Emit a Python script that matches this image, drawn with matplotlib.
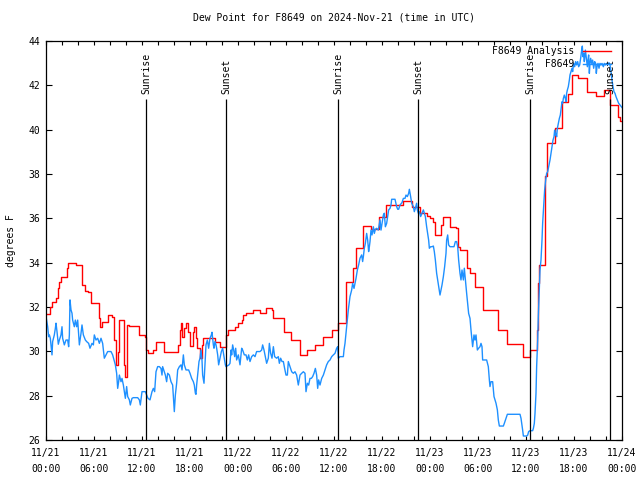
import matplotlib
matplotlib.use("Agg")
import matplotlib.pyplot as plt
import matplotlib.dates as mdates
import pandas as pd

# hours after 2024-11-21 00:00 UTC
analysis_hours = [0.0, 0.5, 0.75, 1.25, 1.45, 1.65, 1.85, 2.6, 2.8, 3.7, 4.55, 4.9, 5.2, 5.6,
                  6.6, 6.75, 6.95, 7.75, 8.3, 8.55, 8.7, 8.95, 9.15, 9.7, 9.85, 10.15, 10.4,
                  11.6, 12.4, 12.55, 12.7, 13.35, 13.7, 14.7, 16.55, 16.7, 16.85, 17.05, 17.25,
                  17.45, 17.75, 17.95, 18.33, 18.5, 18.75, 18.9, 19.25, 19.46, 19.67, 21.1,
                  21.75, 22.5, 22.8, 23.6, 24.0, 24.46, 24.67, 25.0, 25.9, 26.75, 27.5, 28.2,
                  28.4, 29.75, 30.6, 31.75, 32.58, 33.6, 34.67, 35.7, 36.54, 37.5, 38.4, 38.7,
                  39.6, 40.6, 41.6, 42.5, 44.6, 45.7, 46.7, 47.6, 48.0, 48.4, 48.6, 49.4,
                  49.67, 50.5, 51.3, 51.5, 51.8, 52.6, 53.0, 53.6, 54.6, 56.5, 57.6, 59.67,
                  60.55, 61.4, 61.5, 61.6, 62.4, 62.6, 63.6, 64.45, 65.3, 65.7, 66.55, 67.6,
                  68.75, 69.75, 70.5, 71.5, 71.75, 71.9]
analysis_vals = [31.67, 32.0, 32.24, 32.4, 32.85, 33.14, 33.34, 33.74, 33.97, 33.9, 33.0, 32.72,
                 32.66, 32.17, 31.49, 31.11, 31.34, 31.64, 31.56, 30.51, 29.38, 29.98, 31.41,
                 29.38, 28.86, 31.19, 31.14, 30.74, 30.66, 30.06, 29.91, 30.06, 30.41, 29.96,
                 30.3, 30.96, 31.27, 30.66, 31.04, 31.27, 30.89, 30.26, 30.89, 31.11, 30.6,
                 30.15, 29.7, 30.29, 30.62, 30.41, 30.21, 30.74, 30.96, 31.1, 31.27, 31.42,
                 31.64, 31.72, 31.87, 31.72, 31.97, 31.87, 31.49, 30.89, 30.51, 29.83, 30.08,
                 30.29, 30.66, 30.96, 31.29, 33.14, 33.74, 34.65, 35.66, 35.5, 36.08, 36.6,
                 36.8, 36.53, 36.23, 36.1, 36.0, 35.85, 35.25, 35.7, 36.08, 35.62, 35.55,
                 34.72, 34.57, 33.74, 33.52, 32.92, 31.87, 30.96, 30.33, 29.76, 30.06, 30.96,
                 33.07, 33.9, 37.9, 39.39, 40.06, 41.26, 41.6, 42.47, 42.32, 41.71, 41.52,
                 41.79, 41.11, 40.59, 40.4, 40.4]

obs_hours = [0.0, 0.21, 0.33, 0.42, 0.54, 0.625, 0.75, 0.83, 1.04, 1.17, 1.25, 1.375, 1.54,
             1.67, 1.875, 2.0, 2.08, 2.29, 2.5, 2.71, 2.83, 2.92, 3.0, 3.125, 3.25, 3.33,
             3.54, 3.67, 3.83, 3.96, 4.17, 4.375, 4.5, 4.67, 4.92, 5.08, 5.33, 5.5, 5.75,
             5.92, 6.04, 6.25, 6.46, 6.67, 6.875, 7.08, 7.29, 7.5, 7.71, 8.125, 8.33, 8.67,
             8.83, 8.96, 9.08, 9.17, 9.375, 9.5, 9.67, 9.79, 9.92, 10.08, 10.21, 10.42,
             10.54, 10.75, 10.92, 11.46, 11.67, 11.79, 12.0, 12.42, 12.58, 12.75, 13.0,
             13.25, 13.42, 13.58, 13.75, 13.96, 14.17, 14.375, 14.5, 14.58, 14.79, 14.92,
             15.08, 15.21, 15.42, 15.625, 15.83, 15.96, 16.04, 16.17, 16.33, 16.46, 16.67,
             16.875, 17.0, 17.17, 17.29, 17.5, 17.83, 18.0, 18.21, 18.42, 18.54, 18.67,
             18.75, 18.83, 18.96, 19.125, 19.25, 19.375, 19.5, 19.58, 19.75, 19.875, 20.0,
             20.17, 20.33, 20.5, 20.67, 20.75, 20.92, 21.0, 21.125, 21.25, 21.33, 21.46,
             21.58, 21.75, 21.92, 22.08, 22.25, 22.42, 22.5, 22.875, 23.0, 23.125, 23.21,
             23.33, 23.46, 23.58, 23.71, 23.83, 24.04, 24.25, 24.46, 24.58, 24.79, 25.0,
             25.17, 25.33, 25.5, 25.71, 25.92, 26.125, 26.33, 26.75, 26.96, 27.08, 27.25,
             27.42, 27.58, 27.79, 27.92, 28.08, 28.25, 28.42, 28.58, 28.83, 29.04, 29.17,
             29.33, 29.5, 29.67, 29.83, 30.0, 30.17, 30.29, 30.5, 30.71, 30.92, 31.125,
             31.33, 31.54, 31.75, 31.96, 32.17, 32.375, 32.5, 32.67, 32.83, 33.0, 33.17,
             33.33, 33.5, 33.67, 33.83, 33.96, 34.08, 34.25, 34.46, 34.67, 34.875, 35.08,
             35.29, 35.5, 35.71, 35.92, 36.125, 36.33, 36.46, 36.54, 36.75, 37.17, 37.25,
             37.375, 37.58, 37.79, 38.0, 38.21, 38.33, 38.5, 38.625, 38.75, 38.92, 39.08,
             39.25, 39.46, 39.58, 39.67, 39.79, 39.92, 40.08, 40.21, 40.33, 40.42, 40.5,
             40.625, 40.75, 40.92, 41.04, 41.17, 41.33, 41.54, 41.67, 41.75, 41.875, 42.0,
             42.17, 42.29, 42.42, 42.58, 42.71, 42.83, 43.0, 43.125, 43.21, 43.625, 43.83,
             43.96, 44.08, 44.25, 44.5, 44.67, 44.875, 45.0, 45.17, 45.33, 45.42, 45.58,
             45.71, 45.92, 46.04, 46.17, 46.33, 46.42, 46.54, 46.67, 46.83, 47.0, 47.17,
             47.29, 47.42, 47.58, 47.71, 47.83, 47.92, 48.08, 48.25, 48.42, 48.54, 48.67,
             48.83, 48.96, 49.08, 49.25, 49.375, 49.5, 49.67, 49.83, 50.0, 50.08, 50.21,
             50.33, 50.5, 50.83, 51.0, 51.17, 51.33, 51.46, 51.58, 51.75, 51.875, 52.0,
             52.17, 52.29, 52.42, 52.58, 52.71, 52.83, 53.0, 53.125, 53.25, 53.33, 53.5,
             53.625, 53.75, 53.92, 54.08, 54.25, 54.375, 54.5, 54.58, 55.08, 55.29, 55.42,
             55.5, 55.625, 55.83, 56.0, 56.25, 56.42, 56.54, 56.67, 57.17, 57.29, 57.5,
             57.67, 59.25, 59.375, 59.58, 59.67, 60.08, 60.21, 60.33, 60.5, 60.83, 60.92,
             61.04, 61.125, 61.25, 61.33, 61.46, 61.54, 61.625, 61.75, 61.875, 62.0, 62.08,
             62.21, 62.33, 62.46, 62.58, 62.71, 62.83, 63.0, 63.125, 63.25, 63.375, 63.5,
             63.58, 63.67, 63.75, 63.83, 63.92, 64.04, 64.17, 64.29, 64.42, 64.5, 64.58,
             64.67, 64.79, 64.92, 65.0, 65.08, 65.17, 65.29, 65.42, 65.5, 65.625, 65.75,
             65.83, 65.96, 66.08, 66.21, 66.33, 66.46, 66.58, 66.71, 66.83, 66.96, 67.04,
             67.125, 67.21, 67.29, 67.42, 67.54, 67.67, 67.75, 67.83, 67.92, 68.0, 68.08,
             68.21, 68.33, 68.46, 68.58, 68.71, 68.79, 68.875, 69.0, 69.125, 69.25, 69.375,
             69.5, 69.67, 69.79, 69.92, 70.08, 70.25, 70.375, 70.5, 70.625, 70.75, 70.875,
             71.0, 71.125, 71.25, 71.42, 71.58, 71.75, 72.0]
obs_vals = [31.57, 31.11, 30.66, 30.74, 30.59, 30.29, 29.84, 30.44, 30.74, 31.04, 31.27, 30.89,
            30.32, 30.51, 30.74, 31.11, 30.59, 30.29, 30.51, 30.51, 30.21, 30.74, 32.32,
            31.87, 31.72, 31.41, 31.11, 31.41, 31.11, 31.41, 30.29, 30.81, 31.19, 30.74,
            30.51, 30.44, 30.36, 30.14, 30.36, 30.29, 30.74, 30.51, 30.59, 30.36, 30.59,
            30.36, 29.69, 29.84, 29.99, 29.99, 29.84, 29.39, 29.01, 28.33, 28.63, 28.93,
            28.63, 28.78, 28.48, 28.18, 27.88, 28.41, 27.96, 27.81, 27.58, 27.88, 27.91,
            27.91, 27.81, 27.58, 28.18, 28.18, 28.03, 27.88, 27.81, 28.18, 28.33, 28.18,
            29.08, 29.31, 29.31, 29.23, 28.93, 29.31, 29.08, 28.93, 28.63, 29.01, 28.93,
            28.63, 28.48, 27.73, 27.28, 28.03, 28.56, 29.16, 29.31, 29.39, 29.16, 29.84,
            29.39, 29.16, 29.16, 29.01, 28.78, 28.63, 28.48, 28.11, 28.06, 28.48, 28.93,
            29.54, 29.69, 30.06, 29.61, 28.93, 28.56, 29.39, 30.29, 30.51, 30.14, 30.59,
            30.74, 30.86, 30.29, 30.14, 30.44, 30.29, 30.14, 29.84, 29.39, 29.69, 29.99,
            30.14, 29.76, 29.39, 29.31, 29.39, 29.46, 30.06, 29.84, 30.29, 30.06, 29.76,
            30.14, 29.61, 29.84, 29.39, 30.14, 30.06, 29.84, 29.84, 29.61, 29.84, 29.54,
            29.76, 29.84, 29.76, 29.99, 29.99, 30.06, 30.29, 30.06, 29.76, 29.46, 29.69,
            30.36, 29.91, 29.69, 30.21, 29.76, 29.69, 29.76, 29.46, 29.69, 29.54, 29.54,
            29.23, 28.93, 28.93, 29.54, 29.31, 29.08, 29.01, 29.08, 28.93, 28.48, 28.93,
            29.01, 29.08, 29.01, 28.18, 28.56, 28.48, 28.78, 28.78, 28.86, 29.01, 29.23,
            28.93, 28.33, 28.71, 28.48, 28.78, 28.93, 29.16, 29.39, 29.54, 29.61, 29.76,
            29.84, 29.91, 30.14, 30.21, 29.69, 29.76, 29.76, 30.06, 30.36, 31.11, 31.87,
            32.47, 32.77, 33.07, 32.84, 33.07, 33.29, 33.67, 33.9, 34.2, 34.35, 34.05,
            34.27, 34.65, 34.87, 35.32, 35.02, 34.5, 34.72, 34.95, 35.47, 35.25, 35.62,
            35.32, 35.5, 35.55, 35.47, 35.77, 35.93, 35.47, 35.77, 36.15, 36.23, 35.62,
            35.77, 36.08, 36.38, 36.45, 36.6, 36.86, 36.86, 36.53, 36.41, 36.41, 36.6,
            36.71, 36.9, 36.9, 37.05, 36.98, 37.13, 37.31, 36.98, 36.68, 36.53, 36.3,
            36.45, 36.68, 36.38, 36.23, 36.3, 36.08, 36.23, 36.38, 36.23, 36.08, 35.62,
            35.32, 35.02, 34.65, 34.72, 34.72, 34.75, 34.5, 34.12, 33.52, 33.22, 32.92,
            32.54, 32.77, 32.99, 33.37, 33.82, 34.42, 35.02, 35.25, 34.8, 34.72, 34.72,
            34.72, 34.95, 34.95, 34.72, 34.12, 33.52, 33.22, 33.67, 33.22, 33.75, 33.22,
            32.62, 32.17, 31.71, 31.49, 30.96, 30.51, 30.21, 30.74, 30.51, 30.74, 30.06,
            30.14, 30.21, 30.36, 30.21, 29.61, 29.61, 29.31, 28.71, 28.41, 28.63, 28.63,
            27.96, 27.66, 27.36, 26.9, 26.63, 26.63, 26.75, 26.98, 27.16, 27.16, 26.98,
            26.45, 26.18, 26.18, 26.22, 26.38, 26.42, 26.42, 26.52, 26.75, 27.2, 28.11,
            29.31, 30.51, 31.57, 32.47, 33.67, 34.12, 35.02, 35.77, 36.53, 37.28, 37.73,
            38.03, 38.1, 38.33, 38.63, 38.93, 39.23, 39.53, 39.68, 39.98, 39.76, 39.83,
            39.68, 40.06, 40.28, 40.51, 40.66, 41.04, 41.26, 41.19, 41.41, 41.56, 41.41,
            41.26, 41.64, 41.79, 41.94, 42.24, 42.47, 42.62, 42.77, 42.62, 42.99, 42.84,
            43.07, 42.92, 43.07, 42.84, 42.92, 43.22, 43.59, 43.77, 43.29, 43.44, 43.07,
            43.59, 43.22, 42.84, 43.14, 43.37, 42.54, 42.99, 43.22, 42.99, 43.14, 42.77,
            43.07, 42.99, 42.54, 42.84, 42.99, 42.77, 42.99, 42.92, 42.99, 42.84, 42.99,
            42.92, 42.99, 42.96, 43.02, 42.92, 42.62, 42.24, 41.94, 41.71, 41.64, 41.49,
            41.34, 41.19, 41.11, 41.0]

sun_hours = [12.5, 22.5, 36.5, 46.5, 60.5, 70.5]
sun_labels = ["Sunrise", "Sunset", "Sunrise", "Sunset", "Sunrise", "Sunset"]

start = pd.Timestamp("2024-11-21 00:00")
end = pd.Timestamp("2024-11-24 00:00")


def to_time(hours):
    return start + pd.to_timedelta(hours, unit="h")


plt.rcParams['font.family'] = ['DejaVu Sans Mono']
plt.rcParams['font.size'] = 7

fig = plt.figure(figsize=(6.4, 4.8), dpi=100)
ax = fig.add_axes([46 / 640, 40 / 480, 576 / 640, 399 / 480])

ax.plot(to_time(analysis_hours), analysis_vals, color='#ff0000', lw=1.0,
        drawstyle='steps-post', label='F8649 Analysis')
ax.plot(to_time(obs_hours), obs_vals, color='#1e90ff', lw=1.0,
        label='         F8649')

ax.vlines(to_time(sun_hours), 26, 41.38, color='black', lw=0.9)
for t, lab in zip(to_time(sun_hours), sun_labels):
    ax.text(t, 41.62, lab, rotation=90, ha='center', va='bottom', fontsize=7)

ax.set_xlim(start, end)
ax.set_ylim(26, 44)
ax.set_yticks(range(26, 45, 2))
ax.xaxis.set_major_locator(mdates.HourLocator(byhour=[0, 6, 12, 18]))
ax.xaxis.set_minor_locator(mdates.HourLocator(interval=2))
ax.xaxis.set_major_formatter(mdates.DateFormatter('%m/%d\n%H:%M'))
ax.tick_params(axis='x', which='both', direction='in', top=True, length=3, width=0.8, pad=6)
ax.tick_params(axis='y', direction='in', right=True, length=4, width=0.8, pad=4)
for lab in ax.get_xticklabels():
    lab.set_linespacing(1.75)
for s in ax.spines.values():
    s.set_linewidth(0.9)

ax.set_title('Dew Point for F8649 on 2024-Nov-21 (time in UTC)', fontsize=7, pad=15)
ax.set_ylabel('degrees F')
ax.yaxis.set_label_coords(-0.052, 0.5)

ax.legend(loc='upper right', bbox_to_anchor=(0.99, 1.0), frameon=False, markerfirst=False,
          handlelength=2.9, handletextpad=0.9, labelspacing=0.3, borderaxespad=0.15,
          fontsize=7)

fig.savefig('out.png', dpi=100)
